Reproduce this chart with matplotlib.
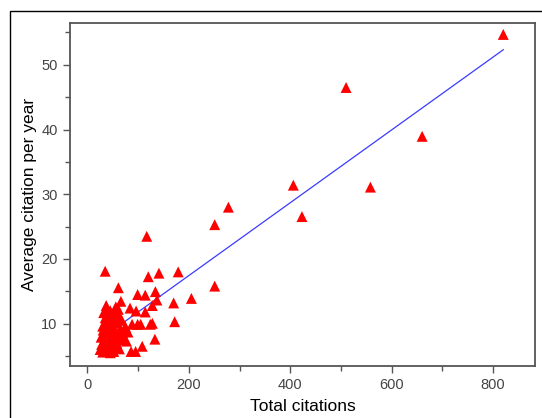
import matplotlib
matplotlib.use("Agg")
import matplotlib.pyplot as plt
import numpy as np
from matplotlib.ticker import MultipleLocator
from matplotlib.patches import Rectangle

plt.rcParams['font.family'] = ['Liberation Sans', 'DejaVu Sans']

# Total citations (x) and average citation per year (y)
total_citations = [
    820, 510, 660, 558, 406, 423, 278, 251, 117, 251,
    35, 141, 179, 120, 205, 170, 172, 61, 133, 108,
    86, 95, 134, 99, 114, 66, 84, 96, 114, 128,
    124, 128, 99, 105, 88, 137,
    37, 32, 61, 29, 25, 73, 77, 69,
    30, 34, 38, 42, 45, 48, 52, 55, 58, 63,
    28, 33, 40, 44, 47, 50, 54, 57, 60, 66,
    31, 36, 39, 43, 46, 49, 53, 56, 62, 68,
    27, 35, 41, 45, 51, 58, 64, 71, 75, 80,
    30, 38, 44, 52, 59, 65, 72, 36, 48, 56,
]
avg_citation_per_year = [
    54.7, 46.5, 38.95, 31.1, 31.4, 26.55, 28.0, 25.3, 23.5, 15.8,
    18.1, 17.8, 18.0, 17.25, 13.9, 13.2, 10.3, 15.55, 7.6, 6.5,
    5.7, 5.7, 14.95, 14.5, 14.4, 13.45, 12.4, 11.95, 11.8, 12.8,
    9.9, 10.05, 9.9, 9.9, 9.9, 13.65,
    12.8, 11.7, 12.2, 8.1, 6.0, 9.1, 7.3, 8.6,
    5.6, 6.2, 5.8, 6.6, 5.5, 6.0, 5.7, 6.4, 6.9, 6.1,
    6.8, 7.4, 7.0, 7.8, 7.2, 7.6, 8.0, 7.1, 7.7, 8.3,
    9.0, 8.6, 9.6, 9.2, 10.3, 9.8, 10.7, 10.1, 11.2, 10.5,
    7.9, 10.9, 11.5, 12.0, 11.4, 11.9, 10.8, 8.8, 9.5, 8.7,
    9.6, 12.3, 8.5, 9.0, 8.2, 9.3, 7.5, 10.2, 11.0, 12.6,
]

x_ticks = [0, 200, 400, 600, 800]
y_ticks = [10, 20, 30, 40, 50]

fig = plt.figure(figsize=(5.42, 4.18), dpi=100)
ax = fig.add_axes([0.1295, 0.1245, 0.858, 0.821])

# outer frame (only left and top visible)
fig.add_artist(Rectangle((10 / 542, -0.1), 1.2, 1 - 11 / 418 + 0.1,
                         transform=fig.transFigure, fill=False,
                         edgecolor='black', linewidth=1.0))

x = np.array(total_citations, dtype=float)
y = np.array(avg_citation_per_year, dtype=float)

ax.scatter(x, y, marker='^', s=62, color='#ff0000', edgecolors='none', zorder=3)

slope, intercept = np.polyfit(x, y, 1)
xl = np.array([x.min(), x.max()])
ax.plot(xl, slope * xl + intercept, color='#3b3bff', linewidth=0.9, zorder=2)

ax.set_xlim(-34, 883)
ax.set_ylim(3.46, 56.5)
ax.set_xticks(x_ticks)
ax.set_yticks(y_ticks)
ax.xaxis.set_minor_locator(MultipleLocator(100))
ax.yaxis.set_minor_locator(MultipleLocator(5))

for s in ax.spines.values():
    s.set_color('#555555')
    s.set_linewidth(1.3)

ax.tick_params(which='both', direction='out', top=False, right=False,
               color='#555555', width=1.0)
ax.tick_params(which='major', length=5, labelsize=10.5, labelcolor='#444444', pad=4)
ax.tick_params(which='minor', length=3.5)

ax.set_xlabel('Total citations', fontsize=12.5, color='black', labelpad=5)
ax.set_ylabel('Average citation per year', fontsize=12.5, color='black', labelpad=3)

fig.savefig('out.png', dpi=100)
